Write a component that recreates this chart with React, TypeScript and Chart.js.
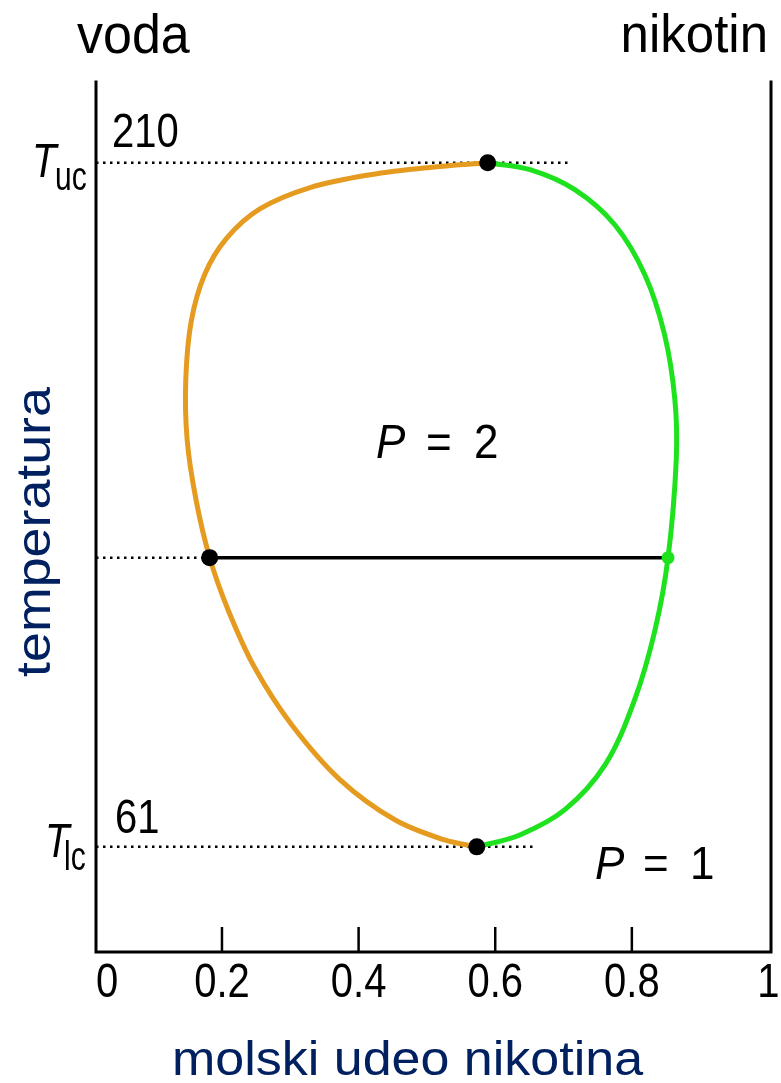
import React, { useEffect, useRef } from 'react';
import { Chart, registerables } from 'chart.js';

Chart.register(...registerables);

const WIDTH = 781;
const HEIGHT = 1083;

// Mole fraction of nicotine (x) tick values and their labels
const xTickValues = [0, 0.2, 0.4, 0.6, 0.8, 1];
const xTickLabels = ['0', '0.2', '0.4', '0.6', '0.8', '1'];
const innerTickValues = [0.2, 0.4, 0.6, 0.8];

// Axis ranges
const X_MIN = 0.0156;
const X_MAX = 1.0037;
const T_MIN = 38.1;
const T_MAX = 227.6;

// Critical solution temperatures and the tie-line temperature
const T_UPPER = 210;
const T_LOWER = 61;
const T_TIE = 124;

// Water-rich branch of the coexistence curve (upper critical point -> lower critical point)
const waterRichX = [0.589, 0.504, 0.417, 0.329, 0.256, 0.207, 0.175, 0.155, 0.147, 0.149, 0.162, 0.182, 0.209, 0.248, 0.302, 0.373, 0.453, 0.526, 0.573];
const waterRichT = [210, 209.0, 207.4, 204.6, 200.0, 193.6, 185.8, 175.5, 162.7, 149.7, 136.6, 124.0, 112.6, 100.0, 87.6, 75.6, 66.9, 62.5, 61];

// Nicotine-rich branch of the coexistence curve
const nicotineRichX = [0.589, 0.651, 0.717, 0.775, 0.819, 0.848, 0.863, 0.865, 0.853, 0.834, 0.804, 0.761, 0.702, 0.636, 0.573];
const nicotineRichT = [210, 208.5, 204.1, 196.5, 185.6, 172.5, 158.4, 145.3, 124.0, 108.3, 93.0, 78.9, 69.1, 63.6, 61];

// Tie line ends and critical compositions
const tieX = [0.182, 0.853];
const upperCriticalX = 0.589;
const lowerCriticalX = 0.573;

// Where the dotted guide lines stop
const upperGuideEnd = 0.706;
const lowerGuideEnd = 0.658;

const ORANGE = '#e59b1f';
const GREEN = '#1fe21f';
const NAVY = '#002060';
const FONT = '"Liberation Sans", Arial, sans-serif';

const pts = (xs: number[], ts: number[]) => xs.map((x, i) => ({ x, y: ts[i] }));

type TextOpts = {
  size: number;
  sy?: number;
  italic?: boolean;
  align?: CanvasTextAlign;
  color?: string;
  rotate?: boolean;
};

function drawText(ctx: CanvasRenderingContext2D, s: string, x: number, y: number, o: TextOpts) {
  ctx.save();
  ctx.translate(x, y);
  ctx.scale(1, o.sy ?? 1);
  if (o.rotate) ctx.rotate(-Math.PI / 2);
  ctx.font = `${o.italic ? 'italic ' : ''}${o.size}px ${FONT}`;
  ctx.fillStyle = o.color ?? '#000';
  ctx.textAlign = o.align ?? 'left';
  ctx.textBaseline = 'alphabetic';
  ctx.fillText(s, 0, 0);
  ctx.restore();
}

const frameAndLabels = {
  id: 'frameAndLabels',
  afterDraw(chart: any) {
    const ctx: CanvasRenderingContext2D = chart.ctx;
    const { left, right, top, bottom } = chart.chartArea;
    const xs = chart.scales.x;
    const ys = chart.scales.y;

    // Frame: left, right and bottom axis lines
    ctx.save();
    ctx.strokeStyle = '#000';
    ctx.lineWidth = 3;
    ctx.lineCap = 'square';
    ctx.beginPath();
    ctx.moveTo(left, top);
    ctx.lineTo(left, bottom);
    ctx.lineTo(right, bottom);
    ctx.lineTo(right, top);
    ctx.stroke();

    // Inward tick marks
    ctx.lineWidth = 2.5;
    ctx.lineCap = 'butt';
    innerTickValues.forEach((v) => {
      const px = xs.getPixelForValue(v);
      ctx.beginPath();
      ctx.moveTo(px, bottom);
      ctx.lineTo(px, bottom - 25);
      ctx.stroke();
    });
    ctx.restore();

    // Tick labels
    xTickValues.forEach((v, i) => {
      let px = xs.getPixelForValue(v);
      if (px < left + 11) px = left + 11;
      drawText(ctx, xTickLabels[i], px, bottom + 45, { size: 40, sy: 1.2, align: 'center' });
    });

    // Component names above the frame
    drawText(ctx, 'voda', 77, 53, { size: 52, sy: 1.05 });
    drawText(ctx, 'nikotin', 768, 52, { size: 51, sy: 1.05, align: 'right' });

    // Critical temperatures
    const yU = ys.getPixelForValue(T_UPPER);
    const yL = ys.getPixelForValue(T_LOWER);
    drawText(ctx, String(T_UPPER), left + 16, yU - 16, { size: 40, sy: 1.18 });
    drawText(ctx, String(T_LOWER), left + 19, yL - 14, { size: 40, sy: 1.18 });

    drawText(ctx, 'T', 32, yU + 14, { size: 40, sy: 1.2, italic: true });
    drawText(ctx, 'uc', 55, yU + 27, { size: 30, sy: 1.35 });
    drawText(ctx, 'T', 45, yL + 10, { size: 40, sy: 1.2, italic: true });
    drawText(ctx, 'lc', 64, yL + 23, { size: 30, sy: 1.35 });

    // Phase counts
    drawText(ctx, 'P', 376, 458, { size: 44, sy: 1.1, italic: true });
    drawText(ctx, '=', 426, 458, { size: 44, sy: 1.1 });
    drawText(ctx, '2', 474, 458, { size: 44, sy: 1.1 });
    drawText(ctx, 'P', 595, 879, { size: 44, sy: 1.05, italic: true });
    drawText(ctx, '=', 643, 879, { size: 44, sy: 1.05 });
    drawText(ctx, '1', 690, 879, { size: 44, sy: 1.05 });

    // Axis titles
    drawText(ctx, 'molski udeo nikotina', (left + right) / 2 - 26, 1075, { size: 52, sy: 0.92, align: 'center', color: NAVY });
    drawText(ctx, 'temperatura', 50, 532, { size: 48, sy: 1.12, align: 'center', color: NAVY, rotate: true });
  },
};

export default function App() {
  const ref = useRef<HTMLCanvasElement | null>(null);

  useEffect(() => {
    if (!ref.current) return;
    const dotted = { borderColor: '#000', borderWidth: 2.5, borderDash: [2.5, 4.5], pointRadius: 0, tension: 0, order: 3 };
    const chart = new Chart(ref.current, {
      type: 'line',
      data: {
        datasets: [
          { ...dotted, data: pts([X_MIN, upperGuideEnd], [T_UPPER, T_UPPER]) },
          { ...dotted, data: pts([X_MIN, lowerGuideEnd], [T_LOWER, T_LOWER]) },
          { ...dotted, data: pts([X_MIN, tieX[0]], [T_TIE, T_TIE]) },
          {
            data: pts(tieX, [T_TIE, T_TIE]),
            borderColor: '#000', borderWidth: 3.5, pointRadius: 0, tension: 0, order: 2,
          },
          {
            data: pts(waterRichX, waterRichT),
            borderColor: ORANGE, borderWidth: 5, pointRadius: 0, tension: 0.35, order: 1,
          },
          {
            data: pts(nicotineRichX, nicotineRichT),
            borderColor: GREEN, borderWidth: 5, pointRadius: 0, tension: 0.35, order: 1,
          },
          {
            data: pts([upperCriticalX, lowerCriticalX, tieX[0], tieX[1]], [T_UPPER, T_LOWER, T_TIE, T_TIE]),
            showLine: false,
            pointRadius: [8.5, 8.5, 8.5, 6.5],
            pointBackgroundColor: ['#000', '#000', '#000', GREEN],
            pointBorderColor: ['#000', '#000', '#000', GREEN],
            pointBorderWidth: 0,
            order: 0,
          },
        ],
      },
      options: {
        responsive: false,
        animation: false,
        layout: { padding: { left: 96, right: WIDTH - 771, top: 82, bottom: HEIGHT - 952 } },
        scales: {
          x: { type: 'linear', min: X_MIN, max: X_MAX, display: false },
          y: { type: 'linear', min: T_MIN, max: T_MAX, display: false },
        },
        plugins: { legend: { display: false }, tooltip: { enabled: false } },
        elements: { line: { capBezierPoints: true } },
      },
      plugins: [frameAndLabels],
    });
    return () => chart.destroy();
  }, []);

  return (
    <div style={{ position: 'absolute', left: 0, top: 0, width: WIDTH, height: HEIGHT, background: '#fff' }}>
      <canvas ref={ref} width={WIDTH} height={HEIGHT} style={{ display: 'block' }} />
    </div>
  );
}
